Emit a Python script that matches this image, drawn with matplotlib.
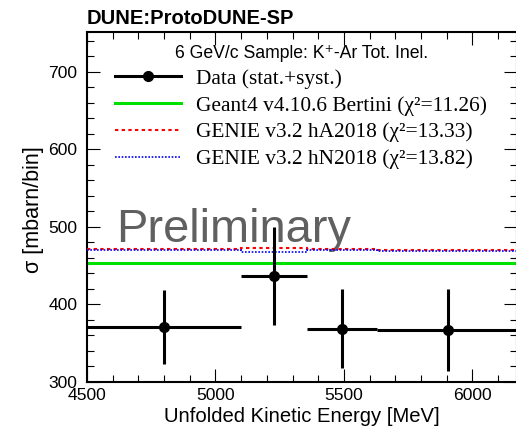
import matplotlib
matplotlib.use("Agg")
import matplotlib.pyplot as plt
from matplotlib.lines import Line2D
from matplotlib.ticker import MultipleLocator

# unfolded kaon-argon inelastic cross section, 6 GeV/c sample
bin_edges = [4500, 5098, 5356, 5627, 6185]
data_x = [4799, 5227, 5491.5, 5906]
data_xerr = [299, 129, 135.5, 279]
data_y = [370, 436.5, 368, 366.5]
data_yerr = [48, 63, 51, 53.5]

geant4_bertini = [452.5, 452.5, 452.5, 452.5]
genie_ha2018 = [471, 472, 471, 469.5]
genie_hn2018 = [470, 467, 470, 469]

legend_labels = [
    "Data (stat.+syst.)",
    "Geant4 v4.10.6 Bertini (χ²=11.26)",
    "GENIE v3.2 hA2018 (χ²=13.33)",
    "GENIE v3.2 hN2018 (χ²=13.82)",
]

sans = ["Liberation Sans", "DejaVu Sans"]
serif = ["Liberation Serif", "DejaVu Serif"]
plt.rcParams["font.family"] = sans

W, H = 516, 426
fig = plt.figure(figsize=(W / 100, H / 100), dpi=100)
ax = fig.add_axes([87 / W, (H - 381.5) / H, (516.5 - 87) / W, (381.5 - 31.7) / H])

ax.text(4615, 480, "Preliminary", fontsize=33.8, color="#606060", zorder=1)

ax.stairs(geant4_bertini, bin_edges, baseline=None, color="#00e000", lw=2.2, zorder=2)
ax.stairs(genie_ha2018, bin_edges, baseline=None, color="#ff0000", lw=1.5,
          ls=(0, (1.6, 1.6)), zorder=3)
ax.stairs(genie_hn2018, bin_edges, baseline=None, color="#0000ff", lw=1.2,
          ls=(0, (1, 1)), zorder=3)

ax.errorbar(data_x, data_y, xerr=data_xerr, yerr=data_yerr, fmt="o", color="k",
            ms=7, elinewidth=2.2, capsize=0, zorder=4)

ax.set_xlim(4500, 6172)
ax.set_ylim(300, 752)
ax.xaxis.set_major_locator(MultipleLocator(500))
ax.xaxis.set_minor_locator(MultipleLocator(100))
ax.yaxis.set_major_locator(MultipleLocator(100))
ax.yaxis.set_minor_locator(MultipleLocator(20))
ax.tick_params(which="both", direction="in", top=True, right=True, width=0.8)
ax.tick_params(which="major", length=9.4, labelsize=12.6)
ax.tick_params(axis="y", which="major", pad=7)
ax.tick_params(axis="x", which="major", pad=5)
ax.tick_params(which="minor", length=5)
for s in ax.spines.values():
    s.set_linewidth(1.5)

ax.set_xlabel("Unfolded Kinetic Energy [MeV]", fontsize=14.6)
ax.set_ylabel("σ [mbarn/bin]", fontsize=15.5)
ax.xaxis.set_label_coords(0.5, -0.072)
ax.yaxis.set_label_coords(-0.10, 0.49)

fig.text(87 / W, 1 - 19 / H, "DUNE:ProtoDUNE-SP", fontsize=14.5, fontweight="bold",
         ha="left", va="center")

handles = [
    Line2D([], [], color="k", lw=2.2, marker="o", ms=7),
    Line2D([], [], color="#00e000", lw=2.2),
    Line2D([], [], color="#ff0000", lw=1.5, ls=(0, (1.6, 1.6))),
    Line2D([], [], color="#0000ff", lw=1.2, ls=(0, (1, 1))),
]
leg = ax.legend(handles, legend_labels, loc="upper left",
                bbox_to_anchor=(115 / W, 1 - 45 / H), bbox_transform=fig.transFigure,
                frameon=False, borderpad=0, borderaxespad=0, numpoints=1,
                handlelength=3.1, handletextpad=0.7, labelspacing=0.32,
                prop={"family": serif, "size": 15.4},
                title="6 GeV/c Sample: K⁺-Ar Tot. Inel.",
                title_fontproperties={"family": sans, "size": 12.7})

fig.savefig("out.png", dpi=100)
